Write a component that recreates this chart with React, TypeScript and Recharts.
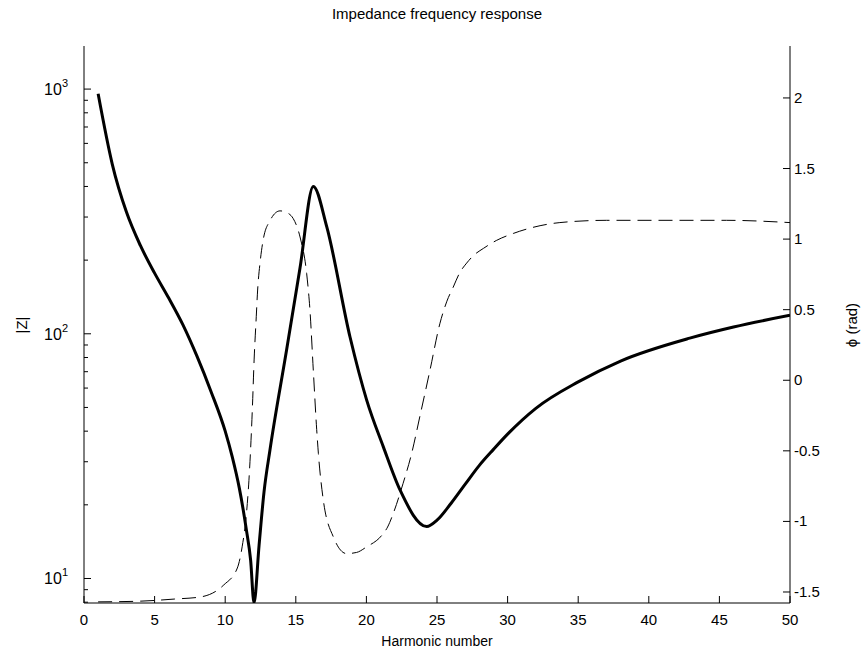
import React from "react";
import { LineChart, Line, XAxis, YAxis } from "recharts";

// |Z| magnitude (left, log axis)
const zHarmonics = [
  1, 2, 3, 4, 5, 6, 7, 8, 9, 10, 10.5, 11, 11.5, 11.8, 12.04, 12.4, 12.75, 13.17,
  14.35, 15.3, 16.24, 17.19, 18.84, 20.02, 21.2, 22.38, 24.27, 25, 26, 27, 28,
  29, 30, 32, 35, 38, 42.9, 46, 50,
];
const zValues = [
  957, 494, 315, 229, 177, 140, 109, 81, 58, 40, 31.4, 23.4, 15.8, 11.9, 7.95,
  13.7, 22.6, 33.5, 86, 186, 400, 274, 97, 53.6, 34.5, 23, 16.3, 17.3, 20.3, 24.3,
  29, 33.7, 38.9, 49.6, 63.6, 77.4, 96, 106.6, 119,
];

// phase (right axis, rad)
const phHarmonics = [
  1, 4, 6.4, 8.26, 9.9, 10.86, 11.2, 11.5, 11.68, 11.92, 12.05, 12.2, 12.28,
  12.5, 12.7, 13.17, 13.88, 14.5, 14.82, 15.3, 15.77, 16, 16.24, 16.48, 16.6,
  16.95, 17.66, 18.6, 19.3, 20.02, 21.08, 21.5, 21.9, 22.6, 23.2, 23.8, 24.5,
  25.2, 25.7, 26.15, 26.6, 27.1, 27.6, 28.3, 29.2, 30.4, 32.3, 33.7, 37, 45.5, 50,
];
const phValues = [
  -1.57, -1.565, -1.55, -1.535, -1.45, -1.33, -1.18, -0.95, -0.71, -0.21, 0.15,
  0.45, 0.61, 0.86, 1.0, 1.13, 1.2, 1.18, 1.145, 1.015, 0.755, 0.5, 0.07, -0.35,
  -0.52, -0.85, -1.11, -1.228, -1.22, -1.18, -1.1, -1.04, -0.944, -0.73, -0.52,
  -0.25, 0.07, 0.4, 0.56, 0.66, 0.76, 0.83, 0.885, 0.935, 0.99, 1.04, 1.095,
  1.117, 1.133, 1.133, 1.117,
];

const xTicks = [0, 5, 10, 15, 20, 25, 30, 35, 40, 45, 50];
const zTicks = [
  8, 9, 10, 20, 30, 40, 50, 60, 70, 80, 90, 100, 200, 300, 400, 500, 600, 700,
  800, 900, 1000,
];
const zMajor = [10, 100, 1000];
const phTicks = [-1.5, -1, -0.5, 0, 0.5, 1, 1.5, 2];

const zData = zHarmonics.map((h, i) => ({ h, z: zValues[i] }));
const phData = phHarmonics.map((h, i) => ({ h, ph: phValues[i] }));

const FONT = "'Liberation Sans', Arial, sans-serif";
const FS = 15;

function XTick({ x, y, payload }: any) {
  return (
    <g>
      <line x1={x} x2={x} y1={y} y2={y - 7} stroke="#000" />
      <text x={x} y={y + 22} textAnchor="middle" fontSize={FS} fontFamily={FONT} fill="#000">
        {payload.value}
      </text>
    </g>
  );
}

function ZTick({ x, y, payload }: any) {
  const v = payload.value;
  const major = zMajor.includes(v);
  const exp = Math.round(Math.log10(v));
  return (
    <g>
      <line x1={x} x2={x + (major ? 7 : 4)} y1={y} y2={y} stroke="#000" />
      {major && (
        <text x={x - 16} y={y + 6} textAnchor="end" fontSize={FS + 1} fontFamily={FONT} fill="#000">
          10
          <tspan dy={-8} fontSize={11}>
            {exp}
          </tspan>
        </text>
      )}
    </g>
  );
}

function PhTick({ x, y, payload }: any) {
  return (
    <g>
      <line x1={x} x2={x - 7} y1={y} y2={y} stroke="#000" />
      <text x={x + 4} y={y + 5} textAnchor="start" fontSize={FS} fontFamily={FONT} fill="#000">
        {payload.value}
      </text>
    </g>
  );
}

export default function App() {
  return (
    <div style={{ position: "absolute", left: 0, top: 0, width: 866, height: 663, background: "#fff" }}>
      <LineChart width={866} height={663} margin={{ top: 46, right: 0, bottom: 0, left: 0 }}>
        <XAxis
          dataKey="h"
          type="number"
          domain={[0, 50]}
          ticks={xTicks}
          allowDataOverflow
          height={60}
          tickSize={0}
          tickMargin={0}
          tickLine={false}
          axisLine={{ stroke: "#000" }}
          tick={<XTick />}
        />
        <YAxis
          yAxisId="z"
          orientation="left"
          scale="log"
          domain={[7.94, 1500]}
          allowDataOverflow
          ticks={zTicks}
          interval={0}
          width={84}
          tickSize={0}
          tickMargin={0}
          tickLine={false}
          axisLine={{ stroke: "#000" }}
          tick={<ZTick />}
        />
        <YAxis
          yAxisId="ph"
          orientation="right"
          domain={[-1.578, 2.368]}
          allowDataOverflow
          ticks={phTicks}
          interval={0}
          width={76}
          tickSize={0}
          tickMargin={0}
          tickLine={false}
          axisLine={{ stroke: "#000" }}
          tick={<PhTick />}
        />
        <Line
          yAxisId="ph"
          data={phData}
          dataKey="ph"
          type="monotone"
          stroke="#000"
          strokeWidth={1}
          strokeDasharray="14 7"
          dot={false}
          isAnimationActive={false}
        />
        <Line
          yAxisId="z"
          data={zData}
          dataKey="z"
          type="monotone"
          stroke="#000"
          strokeWidth={3}
          dot={false}
          isAnimationActive={false}
        />
      </LineChart>
      <svg
        width={866}
        height={663}
        style={{ position: "absolute", left: 0, top: 0, pointerEvents: "none" }}
      >
        <text x={437} y={19} textAnchor="middle" fontSize={FS} fontFamily={FONT} fill="#000">
          Impedance frequency response
        </text>
        <text x={437} y={646} textAnchor="middle" fontSize={14} fontFamily={FONT} fill="#000">
          Harmonic number
        </text>
        <text
          x={0}
          y={0}
          transform="translate(27,325) rotate(-90)"
          textAnchor="middle"
          fontSize={FS}
          fontFamily={FONT}
          fill="#000"
        >
          |Z|
        </text>
        <text
          x={0}
          y={0}
          transform="translate(857,325) rotate(-90)"
          textAnchor="middle"
          fontSize={FS}
          fontFamily={FONT}
          fill="#000"
        >
          ϕ (rad)
        </text>
      </svg>
    </div>
  );
}
